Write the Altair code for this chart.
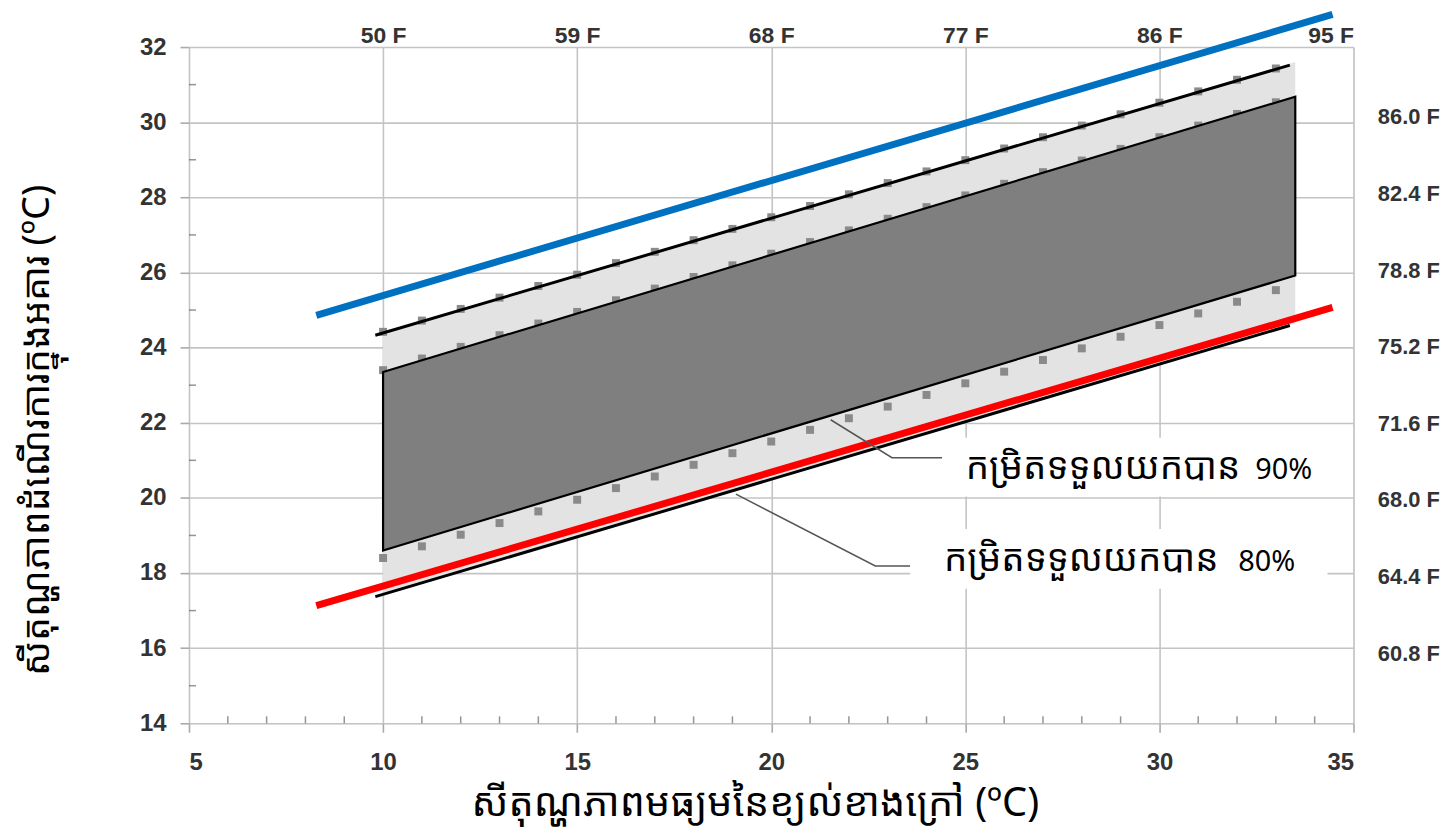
import altair as alt
import pandas as pd

# ---------------- data ----------------
x_major = [5, 10, 15, 20, 25, 30, 35]
y_major = [14, 16, 18, 20, 22, 24, 26, 28, 30, 32]
x_minor = [6, 7, 8, 9, 11, 12, 13, 14, 16, 17, 18, 19, 21, 22, 23, 24, 26, 27, 28, 29, 31, 32, 33, 34]
y_minor = [15, 17, 19, 21, 23, 25, 27, 29, 31]
top_vals = [10, 15, 20, 25, 30, 35]
top_labels = ["50 F", "59 F", "68 F", "77 F", "86 F", "95 F"]
right_vals = [16, 18, 20, 22, 24, 26, 28, 30]
right_labels = ["60.8 F", "64.4 F", "68.0 F", "71.6 F", "75.2 F", "78.8 F", "82.4 F", "86.0 F"]

# 80% acceptability band (light grey)
band80_x = [10, 33.5]
band80_lo = [17.4, 24.65]
band80_hi = [24.4, 31.6]
# 80% limit lines (black)
lim_x = [9.8, 33.36]
lim_lo = [17.37, 24.59]
lim_hi = [24.33, 31.52]
# 90% acceptability band (dark grey)
band90_x = [10, 33.5]
band90_lo = [18.6, 25.92]
band90_hi = [23.35, 30.68]

# square markers
sq_x = [10, 11, 12, 13, 14, 15, 16, 17, 18, 19, 20, 21, 22, 23, 24, 25, 26, 27, 28, 29, 30, 31, 32, 33]
sq_up80 = [24.42, 24.72, 25.03, 25.33, 25.64, 25.94, 26.25, 26.55, 26.86, 27.16, 27.47, 27.77,
           28.08, 28.38, 28.69, 28.99, 29.30, 29.60, 29.91, 30.21, 30.52, 30.82, 31.13, 31.43]
sq_up90 = [23.40, 23.71, 24.02, 24.33, 24.64, 24.95, 25.26, 25.57, 25.88, 26.19, 26.50, 26.81,
           27.12, 27.43, 27.74, 28.05, 28.36, 28.67, 28.98, 29.29, 29.60, 29.91, 30.22, 30.53]
sq_lo90 = [18.40, 18.71, 19.02, 19.33, 19.64, 19.95, 20.26, 20.57, 20.88, 21.19, 21.50, 21.81,
           22.12, 22.43, 22.74, 23.05, 23.36, 23.67, 23.98, 24.29, 24.60, 24.91, 25.22, 25.53]

# blue and red lines
blue_x = [8.28, 34.46]
blue_y = [24.86, 32.87]
red_x = [8.28, 34.46]
red_y = [17.13, 25.07]

# annotations
ann_text = ["កម្រិតទទួលយកបាន", "កម្រិតទទួលយកបាន"]
ann_pct = ["90%", "80%"]
ann_x = [25.01, 24.45]
ann_pct_x = [32.47, 32.03]
ann_y = [20.49, 18.06]
box_x1 = [24.40, 23.58]
box_x2 = [34.46, 34.33]
box_y1 = [20.04, 17.58]
box_y2 = [21.60, 19.17]
leader_id = ["a", "a", "a", "b", "b", "b"]
leader_ord = [0, 1, 2, 0, 1, 2]
leader_x = [21.53, 23.11, 24.40, 19.09, 22.68, 23.58]
leader_y = [22.08, 21.07, 21.07, 20.10, 18.19, 18.19]

x_title = "សីតុណ្ហភាពមធ្យមនៃខ្យល់ខាងក្រៅ (ºC)"
y_title = "សីតុណ្ហភាពដំណើរការក្នុងអគារ (ºC)"

# ---------------- styling ----------------
W, H = 1171, 680
KH = "Noto Sans Khmer, Khmer OS, Noto Sans, sans-serif"
LAT = "Noto Sans, sans-serif"
LAB = "Liberation Sans, Arial, sans-serif"

xs = alt.Scale(domain=[5, 35], nice=False, zero=False)
ys = alt.Scale(domain=[14, 32], nice=False, zero=False)

xax = alt.Axis(values=x_major, orient="bottom", grid=True, gridColor="#c4c4c4", gridWidth=1.6,
               ticks=True, tickSize=9, tickColor="#aaaaaa", tickWidth=1.6, domain=False,
               labelFont=LAB, labelFontSize=24, labelFontWeight="bold", labelColor="#333333",
               labelPadding=18, title=x_title, titleFont=KH, titleFontSize=40,
               titleFontWeight="normal", titleColor="#000000", titleX=569, titleY=81,
               titleBaseline="middle", titleAlign="center")
yax = alt.Axis(values=y_major, orient="left", grid=True, gridColor="#c4c4c4", gridWidth=1.6,
               ticks=True, tickSize=9, tickColor="#aaaaaa", tickWidth=1.6, domain=False,
               labelFont=LAB, labelFontSize=24, labelFontWeight="bold", labelColor="#333333",
               labelPadding=14, title=y_title, titleFont=KH, titleFontSize=38,
               titleFontWeight="normal", titleColor="#000000", titleX=-152, titleY=385,
               titleBaseline="middle", titleAlign="center", titleAngle=-90)


def X(f):
    return alt.X(f, type="quantitative", scale=xs, axis=xax)


def Y(f):
    return alt.Y(f, type="quantitative", scale=ys, axis=yax)


band80 = pd.DataFrame({"x": band80_x, "lo": band80_lo, "hi": band80_hi})
band90 = pd.DataFrame({"x": band90_x, "lo": band90_lo, "hi": band90_hi})
lims = pd.DataFrame({"x": lim_x + lim_x, "y": lim_lo + lim_hi, "g": ["lo", "lo", "hi", "hi"]})
sq80 = pd.DataFrame({"x": sq_x, "y": sq_up80})
sq90u = pd.DataFrame({"x": sq_x, "y": sq_up90})
sq90l = pd.DataFrame({"x": sq_x, "y": sq_lo90})
blue = pd.DataFrame({"x": blue_x, "y": blue_y})
red = pd.DataFrame({"x": red_x, "y": red_y})
ann = pd.DataFrame({"t": ann_text, "p": ann_pct, "x": ann_x, "px": ann_pct_x, "y": ann_y,
                    "bx1": box_x1, "bx2": box_x2, "by1": box_y1, "by2": box_y2})
lead = pd.DataFrame({"id": leader_id, "o": leader_ord, "x": leader_x, "y": leader_y})
xmin = pd.DataFrame({"x": x_minor})
ymin = pd.DataFrame({"y": y_minor})

SQ = 64
light = alt.Chart(band80).mark_area(color="#e3e3e3").encode(
    x=X("x"), y=Y("lo"), y2="hi")
s80 = alt.Chart(sq80).mark_square(size=SQ, color="#8a8a8a", opacity=1).encode(x=X("x"), y=Y("y"))
black = alt.Chart(lims).mark_line(color="#000000", strokeWidth=3).encode(
    x=X("x"), y=Y("y"), detail="g")
s90u = alt.Chart(sq90u).mark_square(size=SQ, color="#8a8a8a", opacity=1).encode(x=X("x"), y=Y("y"))
dark = alt.Chart(band90).mark_area(color="#7f7f7f", stroke="#000000", strokeWidth=2.2).encode(
    x=X("x"), y=Y("lo"), y2="hi")
s90l = alt.Chart(sq90l).mark_square(size=SQ, color="#8a8a8a", opacity=1).encode(x=X("x"), y=Y("y"))
blue_l = alt.Chart(blue).mark_line(color="#0070c0", strokeWidth=7, clip=False).encode(
    x=X("x"), y=Y("y"))
red_l = alt.Chart(red).mark_line(color="#ff0000", strokeWidth=7, clip=False).encode(
    x=X("x"), y=Y("y"))
leaders = alt.Chart(lead).mark_line(color="#555555", strokeWidth=1.5).encode(
    x=X("x"), y=Y("y"), detail="id", order="o")
boxes = alt.Chart(ann).mark_rect(color="#ffffff").encode(
    x=X("bx1"), x2="bx2", y=Y("by1"), y2="by2")
texts = alt.Chart(ann).mark_text(font=KH, fontSize=37, align="left", baseline="alphabetic",
                                 color="#000000").encode(x=X("x"), y=Y("y"), text="t")
pcts = alt.Chart(ann).mark_text(font=LAT, fontSize=29, align="left", baseline="alphabetic",
                                color="#000000").encode(x=X("px"), y=Y("y"), text="p")
mx = alt.Chart(xmin).mark_tick(orient="vertical", size=7, thickness=1.5, color="#666666").encode(
    x=X("x"), y=alt.value(H - 3.5))
my = alt.Chart(ymin).mark_tick(orient="horizontal", size=7, thickness=1.5, color="#666666").encode(
    y=Y("y"), x=alt.value(3.5))

inner = alt.layer(light, s80, black, s90u, dark, s90l, blue_l, red_l, leaders, boxes, texts, pcts, mx, my)


# secondary axes (top: Fahrenheit of x, right: Fahrenheit of y)
def chain(vals, labels):
    expr = "''"
    for v, l in reversed(list(zip(vals, labels))):
        expr = f"datum.value == {v} ? '{l}' : ({expr})"
    return expr


sec = pd.DataFrame({"x": top_vals + [None] * 2, "y": right_vals})
dummy = alt.Chart(sec).mark_point(opacity=0).encode(
    x=alt.X("x:Q", scale=xs,
            axis=alt.Axis(orient="top", values=top_vals, labelExpr=chain(top_vals, top_labels),
                          grid=False, ticks=False, domain=False, labelFont=LAB,
                          labelFontSize=23, labelFontWeight="bold", labelColor="#333333",
                          labelPadding=0, title=None)),
    y=alt.Y("y:Q", scale=alt.Scale(domain=[14.17, 31.82], nice=False, zero=False),
            axis=alt.Axis(orient="right", values=right_vals,
                          labelExpr=chain(right_vals, right_labels),
                          grid=False, ticks=False, domain=False, labelFont=LAB,
                          labelFontSize=22, labelFontWeight="bold", labelColor="#333333",
                          labelPadding=24, title=None)),
)

chart = alt.layer(inner, dummy).resolve_scale(y="independent").resolve_axis(x="independent").properties(
    width=W, height=H,
    autosize=alt.AutoSizeParams(type="none"),
    padding={"left": 182, "top": 37, "right": 90, "bottom": 102},
).configure_view(stroke="#555555", strokeWidth=2).configure(background="#ffffff")

chart.save("out.html", embed_options={"renderer": "svg", "actions": False})
